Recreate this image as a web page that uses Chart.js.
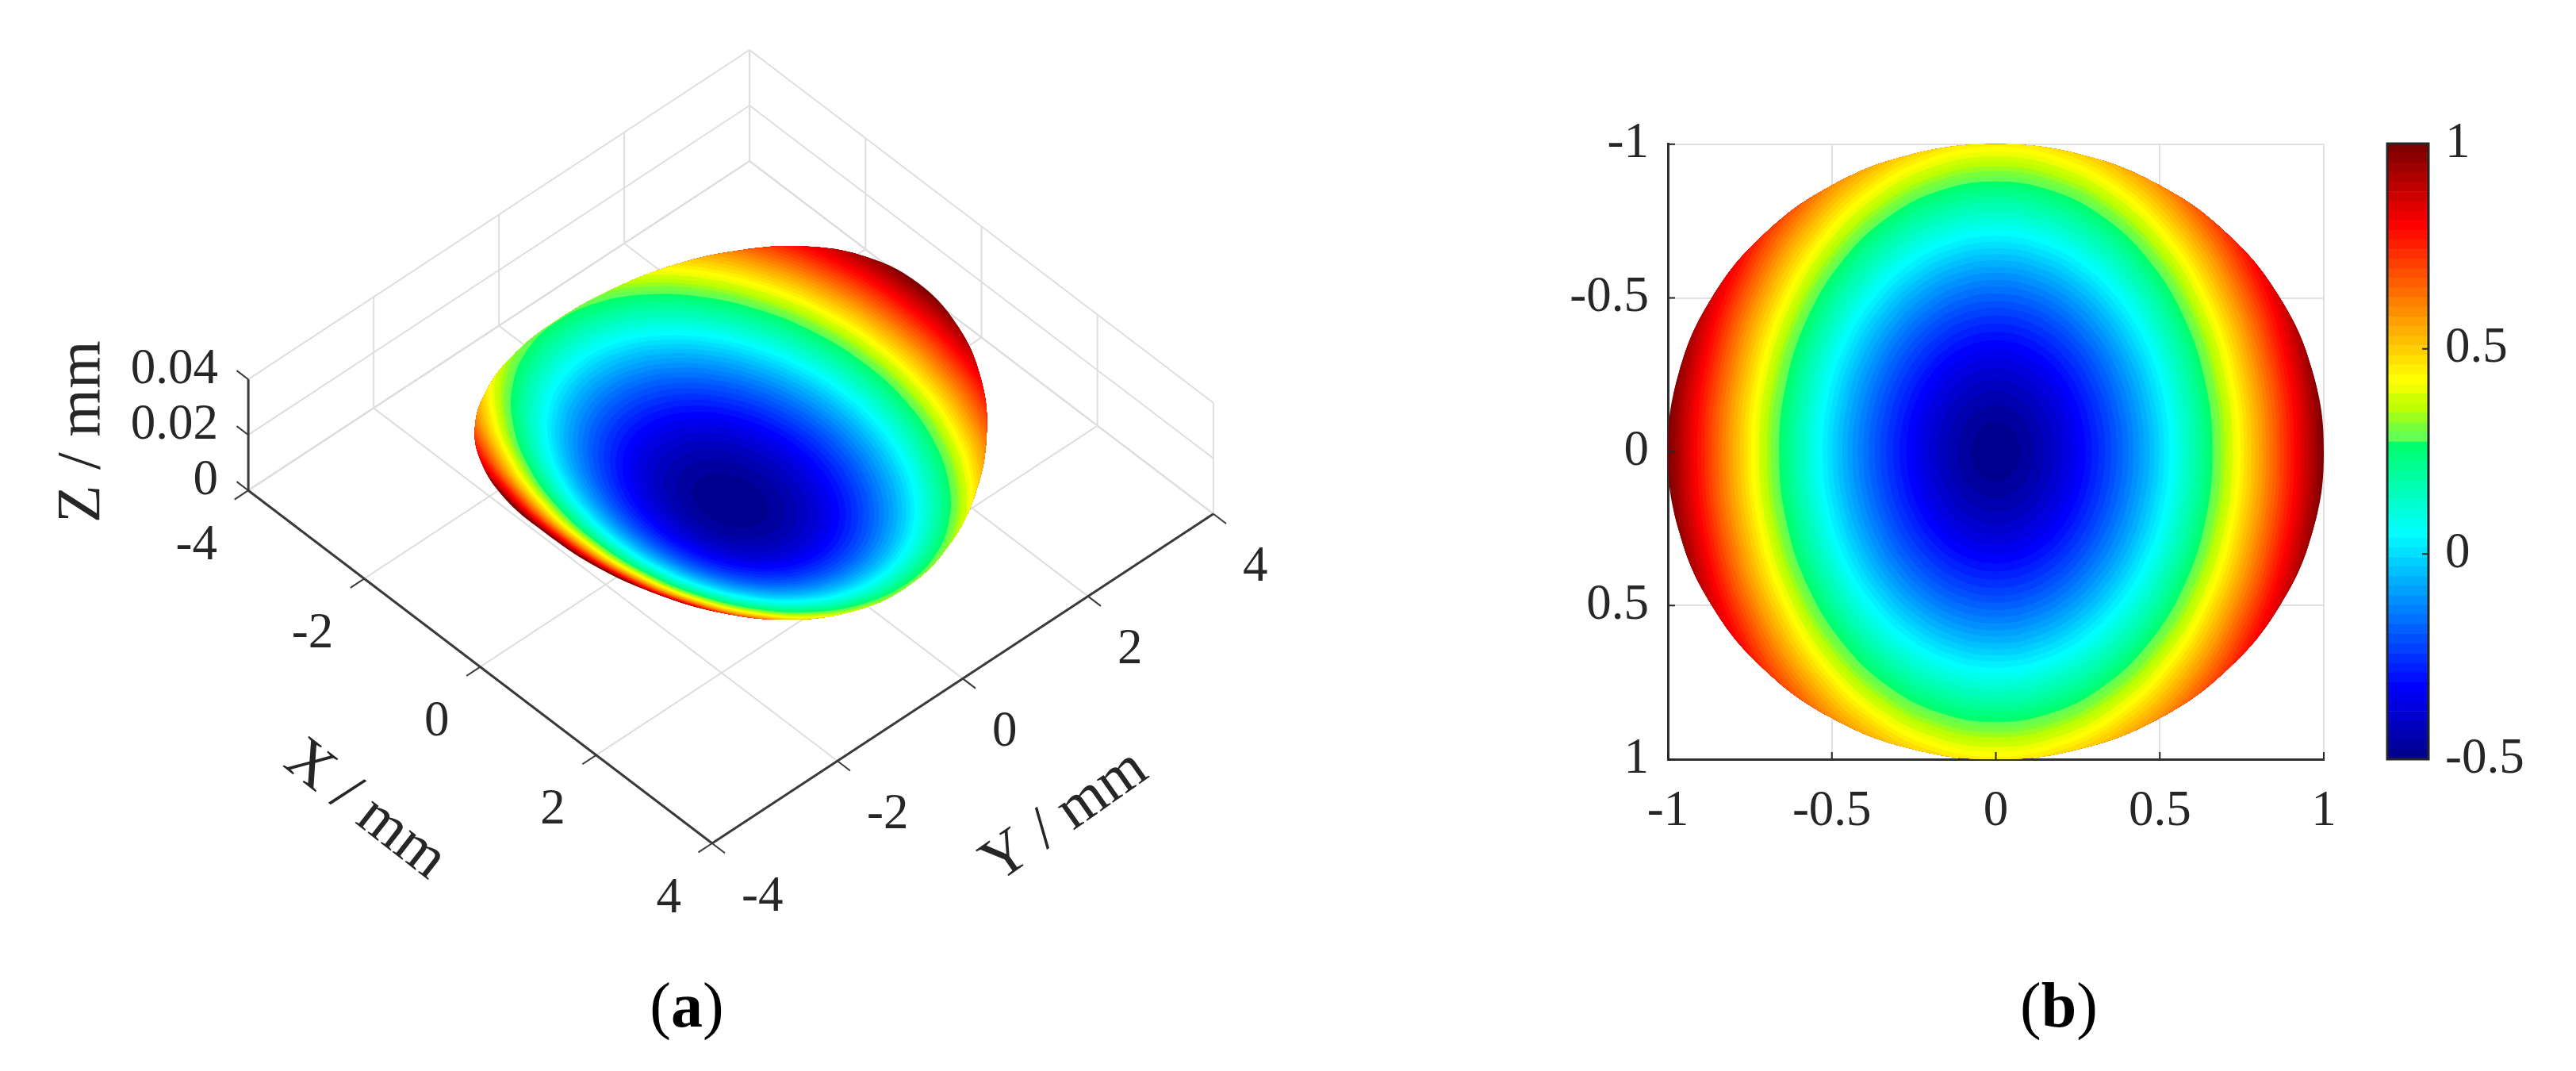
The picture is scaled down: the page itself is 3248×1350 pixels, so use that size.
<!DOCTYPE html>
<html>
<head>
<meta charset="utf-8">
<script src="https://cdn.jsdelivr.net/npm/chart.js@4/dist/chart.umd.min.js"></script>
<style>
  html, body { margin: 0; background: #fff; }
  body { position: relative; width: 3248px; height: 1350px; overflow: hidden; }
  canvas { position: absolute; }
  .caption { position: absolute; top: 1222px; width: 300px; text-align: center; font: 80px "Liberation Serif"; color: #000; }
</style>
</head>
<body>
<canvas id="axes3d" width="1700" height="1200" style="left:0;top:0"></canvas>
<canvas id="surface3d" width="1700" height="1200" style="left:0;top:0"></canvas>
<canvas id="contourChart" width="1010" height="960" style="left:1980px;top:120px"></canvas>
<canvas id="colorbar" width="258" height="960" style="left:2990px;top:120px"></canvas>
<div class="caption" style="left:716px">(<b>a</b>)</div>
<div class="caption" style="left:2446px">(<b>b</b>)</div>
<script>
// band edges of the colour scale
const levelEdges = [-0.5, -0.477, -0.453, -0.43, -0.406, -0.383, -0.359, -0.336, -0.313, -0.289, -0.266, -0.242, -0.219,
  -0.195, -0.172, -0.148, -0.125, -0.102, -0.078, -0.055, -0.031, -0.008, 0.016, 0.039, 0.063, 0.086, 0.109, 0.133,
  0.156, 0.18, 0.203, 0.227, 0.25, 0.273, 0.297, 0.32, 0.344, 0.367, 0.391, 0.414, 0.438, 0.461, 0.484, 0.508, 0.531,
  0.555, 0.578, 0.602, 0.625, 0.648, 0.672, 0.695, 0.719, 0.742, 0.766, 0.789, 0.813, 0.836, 0.859, 0.883, 0.906,
  0.93, 0.953, 0.977, 1];
// panel (b): half width of each contour along the horizontal axis, one per band
const contourSemiU = [0.074, 0.115, 0.148, 0.177, 0.203, 0.228, 0.251, 0.273, 0.293, 0.313, 0.333, 0.352, 0.369, 0.387,
  0.404, 0.42, 0.437, 0.452, 0.468, 0.483, 0.498, 0.513, 0.528, 0.542, 0.556, 0.569, 0.583, 0.597, 0.61, 0.623, 0.636,
  0.648, 0.661, 0.673, 0.686, 0.698, 0.71, 0.722, 0.734, 0.746, 0.757, 0.768, 0.78, 0.791, 0.802, 0.814, 0.824, 0.835,
  0.846, 0.857, 0.867, 0.878, 0.888, 0.899, 0.91, 0.92, 0.93, 0.94, 0.951, 0.96, 0.971, 0.98, 0.991, 1.02];
const contourStretchV = 1.33;
// panel (a): half length of each contour along Y, as a share of the aperture radius
const surfaceSemiY = [0.125, 0.177, 0.217, 0.25, 0.28, 0.306, 0.331, 0.354, 0.375, 0.395, 0.415, 0.433, 0.451, 0.468,
  0.484, 0.5, 0.515, 0.53, 0.545, 0.559, 0.573, 0.586, 0.599, 0.612, 0.625, 0.637, 0.65, 0.661, 0.673, 0.685, 0.696,
  0.707, 0.718, 0.729, 0.74, 0.75, 0.76, 0.771, 0.781, 0.791, 0.8, 0.81, 0.82, 0.829, 0.839, 0.848, 0.857, 0.866,
  0.875, 0.884, 0.893, 0.901, 0.91, 0.919, 0.927, 0.935, 0.944, 0.952, 0.96, 0.968, 0.976, 0.984, 0.992, 1.03];
const surfaceStretchX = 1.39;

// unit circle, every 15 degrees
const circleU = [1, 0.966, 0.866, 0.707, 0.5, 0.259, 0, -0.259, -0.5, -0.707, -0.866, -0.966,
  -1, -0.966, -0.866, -0.707, -0.5, -0.259, 0, 0.259, 0.5, 0.707, 0.866, 0.966];
const circleV = [0, 0.259, 0.5, 0.707, 0.866, 0.966, 1, 0.966, 0.866, 0.707, 0.5, 0.259,
  0, -0.259, -0.5, -0.707, -0.866, -0.966, -1, -0.966, -0.866, -0.707, -0.5, -0.259];
// panel (a): surface value along the aperture rim, same angles as the circle above
const rimValues = [1, 0.94, 0.82, 0.7, 0.47, 0.3, 0.23, 0.29, 0.43, 0.61, 0.79, 0.92,
  0.99, 0.91, 0.78, 0.58, 0.42, 0.32, 0.28, 0.33, 0.46, 0.62, 0.8, 0.94];

const xyTicks3d = [-4, -2, 0, 2, 4];
const zTicks3d = [0, 0.02, 0.04];
const zTickLabels = ["0", "0.02", "0.04"];
const apertureRadiusMm = 3;
const mmPerValue = 0.02286;

const planeTicks = [-1, -0.5, 0, 0.5, 1];
const colorbarTicks = [-0.5, 0, 0.5, 1];

const serif = "Liberation Serif";
const inkColor = "#262626";
const tickFontSize = 63;

// view of panel (a), in page pixels
const viewOrigin = { x: 921.5, y: 633 };
const viewX = { x: 73.1, y: 55.6 };
const viewY = { x: 79, y: -51.9 };
const viewZ = 3500;

function project(X, Y, Z) {
  return {
    x: viewOrigin.x + X * viewX.x + Y * viewY.x,
    y: viewOrigin.y + X * viewX.y + Y * viewY.y - Z * viewZ,
  };
}

const lowR = [100, 120, 155, 190, 205, 240];
const lowB = [80, 60, 30, 0, 0, 0];
function bandColor(k) {
  let r = 0, g = 255, b = 0;
  if (k < 8) { g = 0; b = 143 + 16 * k; }
  else if (k < 24) { g = Math.min(255, 16 * (k - 7)); b = 255; }
  else if (k < 33) { b = 255 - 16 * (k - 23); }
  else if (k < 39) { r = lowR[k - 33]; b = lowB[k - 33]; }
  else if (k < 56) { r = 255; g = Math.max(0, 255 - 16 * (k - 39)); }
  else { r = 255 - 16 * (k - 55); g = 0; }
  return `rgb(${r},${g},${b})`;
}

// closed ring through the 24 circle points, one extra point on each end keeps the spline round at the seam
function wrapRing(points) {
  return [points[points.length - 1], ...points, points[0], points[1]];
}

function areaDataset(points, color) {
  return {
    data: wrapRing(points),
    showLine: true,
    fill: "shape",
    backgroundColor: color,
    borderWidth: 0,
    pointRadius: 0,
    tension: 0.4,
  };
}

function rimDataset(points) {
  return { data: wrapRing(points), showLine: true, fill: false, borderWidth: 0, pointRadius: 0, tension: 0.4 };
}

// the rim is dataset 0, every contour gets clipped to it
const clipToRim = {
  id: "clipToRim",
  beforeDatasetsDraw(chart) {
    const rim = chart.getDatasetMeta(0).dataset;
    rim.updateControlPoints(chart.chartArea);
    chart.ctx.save();
    chart.ctx.beginPath();
    rim.path(chart.ctx);
    chart.ctx.closePath();
    chart.ctx.clip();
  },
  afterDatasetsDraw(chart) {
    chart.ctx.restore();
  },
};

const baseOptions = {
  responsive: false,
  animation: false,
  plugins: { legend: { display: false }, tooltip: { enabled: false } },
  events: [],
  elements: { line: { capBezierPoints: false } },
};

const pageScales = {
  x: { type: "linear", display: false, min: 0, max: 1700 },
  y: { type: "linear", display: false, min: 0, max: 1200, reverse: true },
};

// ---- panel (a), box and axes ----
function segment(a, b, color, width) {
  return {
    data: [project(...a), project(...b)],
    showLine: true,
    borderColor: color,
    borderWidth: width,
    pointRadius: 0,
    fill: false,
  };
}

const boxSets = [];
const gridColor = "#dedede";
const edgeColor = "#c4c4c4";
const axisColor = "#3a3a3a";
const zTop = zTicks3d[zTicks3d.length - 1];

xyTicks3d.forEach((t) => {
  boxSets.push(segment([t, -4, 0], [t, 4, 0], gridColor, 2));
  boxSets.push(segment([-4, t, 0], [4, t, 0], gridColor, 2));
  boxSets.push(segment([-4, t, 0], [-4, t, zTop], gridColor, 2));
  boxSets.push(segment([t, 4, 0], [t, 4, zTop], gridColor, 2));
});
zTicks3d.forEach((z) => {
  boxSets.push(segment([-4, -4, z], [-4, 4, z], z === 0 ? edgeColor : gridColor, 2));
  boxSets.push(segment([-4, 4, z], [4, 4, z], z === 0 ? edgeColor : gridColor, 2));
});
xyTicks3d.forEach((t) => {
  boxSets.unshift(segment([t, -4, 0], [t, -4.22, 0], axisColor, 2));
  boxSets.unshift(segment([4, t, 0], [4.22, t, 0], axisColor, 2));
});
zTicks3d.forEach((z) => {
  boxSets.unshift(segment([-4, -4, z], [-4.2, -4, z], axisColor, 2));
});
boxSets.unshift(segment([-4, -4, 0], [4, -4, 0], axisColor, 3));
boxSets.unshift(segment([4, -4, 0], [4, 4, 0], axisColor, 3));
boxSets.unshift(segment([-4, -4, 0], [-4, -4, zTop], axisColor, 3));

const boxLabels = {
  id: "boxLabels",
  afterDatasetsDraw(chart) {
    const { ctx, scales } = chart;
    const put = (text, p, dx, dy, align, size, angle) => {
      ctx.save();
      ctx.translate(scales.x.getPixelForValue(p.x) + dx, scales.y.getPixelForValue(p.y) + dy);
      ctx.rotate(((angle || 0) * Math.PI) / 180);
      ctx.font = `${size}px "${serif}"`;
      ctx.fillStyle = inkColor;
      ctx.textAlign = align;
      ctx.textBaseline = "middle";
      ctx.fillText(text, 0, 0);
      ctx.restore();
    };
    xyTicks3d.forEach((t) => {
      put(String(t), project(t, -4, 0), -39, 70, "right", tickFontSize);
      put(String(t), project(4, t, 0), 37, 68, "left", tickFontSize);
    });
    zTicks3d.forEach((z, i) => put(zTickLabels[i], project(-4, -4, z), -38, -12, "right", tickFontSize));
    put("X / mm", project(0, -4, 0), -145, 181, "center", 77, 38);
    put("Y / mm", project(4, 0, 0), 129, 174, "center", 77, -35);
    put("Z / mm", project(-4, -4, 0.02), -209, -4, "center", 78, -90);
  },
};

new Chart(document.getElementById("axes3d"), {
  type: "scatter",
  data: { datasets: boxSets },
  options: { ...baseOptions, scales: pageScales },
  plugins: [boxLabels],
});

// ---- panel (a), surface ----
const surfaceSets = [
  rimDataset(circleU.map((u, i) =>
    project(apertureRadiusMm * circleV[i], apertureRadiusMm * u, (rimValues[i] + 0.5) * mmPerValue))),
];
surfaceSemiY.forEach((semi, k) => {
  const Z = (levelEdges[k + 1] + 0.5) * mmPerValue;
  const pts = circleU.map((u, i) =>
    project(apertureRadiusMm * semi * surfaceStretchX * circleV[i], apertureRadiusMm * semi * u, Z));
  surfaceSets.push(areaDataset(pts, bandColor(k)));
});

new Chart(document.getElementById("surface3d"), {
  type: "scatter",
  data: { datasets: surfaceSets },
  options: { ...baseOptions, scales: pageScales },
  plugins: [clipToRim],
});

// ---- panel (b) ----
const planeSets = [rimDataset(circleU.map((u, i) => ({ x: u, y: circleV[i] })))];
contourSemiU.forEach((semi, k) => {
  const pts = circleU.map((u, i) => ({ x: semi * u, y: semi * contourStretchV * circleV[i] }));
  planeSets.push(areaDataset(pts, bandColor(k)));
});

const planeInnerTicks = {
  id: "planeInnerTicks",
  afterDraw(chart) {
    const { ctx, scales, chartArea } = chart;
    ctx.save();
    ctx.strokeStyle = inkColor;
    ctx.lineWidth = 2;
    ctx.beginPath();
    planeTicks.forEach((t) => {
      const px = scales.x.getPixelForValue(t);
      ctx.moveTo(px, chartArea.bottom);
      ctx.lineTo(px, chartArea.bottom - 9);
      const py = scales.y.getPixelForValue(t);
      ctx.moveTo(chartArea.left, py);
      ctx.lineTo(chartArea.left + 9, py);
    });
    ctx.stroke();
    ctx.restore();
  },
};

function planeScale(padding, extra) {
  return {
    type: "linear",
    min: -1,
    max: 1,
    afterBuildTicks(scale) { scale.ticks = planeTicks.map((value) => ({ value })); },
    grid: { color: "#e0e0e0", lineWidth: 2, drawTicks: false },
    border: { color: "#303030", width: 3 },
    ticks: { font: { family: serif, size: tickFontSize }, color: inkColor, padding, callback: (v) => String(v), maxRotation: 0, autoSkip: false },
    ...extra,
  };
}

new Chart(document.getElementById("contourChart"), {
  type: "scatter",
  data: { datasets: planeSets },
  options: {
    ...baseOptions,
    layout: { padding: { top: 61, right: 60 } },
    scales: {
      x: planeScale(29, { afterFit(s) { s.height = 123; } }),
      y: planeScale(24, { reverse: true, afterFit(s) { s.width = 123; } }),
    },
  },
  plugins: [clipToRim, planeInnerTicks],
});

// ---- colorbar ----
const barOutline = {
  id: "barOutline",
  afterDatasetsDraw(chart) {
    const { ctx, chartArea, scales } = chart;
    ctx.save();
    ctx.strokeStyle = inkColor;
    ctx.lineWidth = 3;
    ctx.strokeRect(chartArea.left, chartArea.top, chartArea.right - chartArea.left, chartArea.bottom - chartArea.top);
    ctx.lineWidth = 2;
    ctx.beginPath();
    colorbarTicks.forEach((t) => {
      const py = scales.y.getPixelForValue(t);
      ctx.moveTo(chartArea.right, py);
      ctx.lineTo(chartArea.right - 8, py);
    });
    ctx.stroke();
    ctx.restore();
  },
};

new Chart(document.getElementById("colorbar"), {
  type: "bar",
  data: {
    labels: [""],
    datasets: contourSemiU.map((_, k) => ({
      data: [[levelEdges[k], levelEdges[k + 1]]],
      backgroundColor: bandColor(k),
      barPercentage: 1,
      categoryPercentage: 1,
      grouped: false,
    })),
  },
  options: {
    ...baseOptions,
    layout: { padding: { top: 61, left: 20, bottom: 123 } },
    scales: {
      x: { display: false },
      y: {
        position: "right",
        min: -0.5,
        max: 1,
        afterBuildTicks(scale) { scale.ticks = colorbarTicks.map((value) => ({ value })); },
        afterFit(s) { s.width = 186; },
        grid: { display: false, drawTicks: false },
        border: { display: false },
        ticks: { font: { family: serif, size: tickFontSize }, color: inkColor, padding: 21, callback: (v) => String(v), autoSkip: false },
      },
    },
  },
  plugins: [barOutline],
});
</script>
</body>
</html>
